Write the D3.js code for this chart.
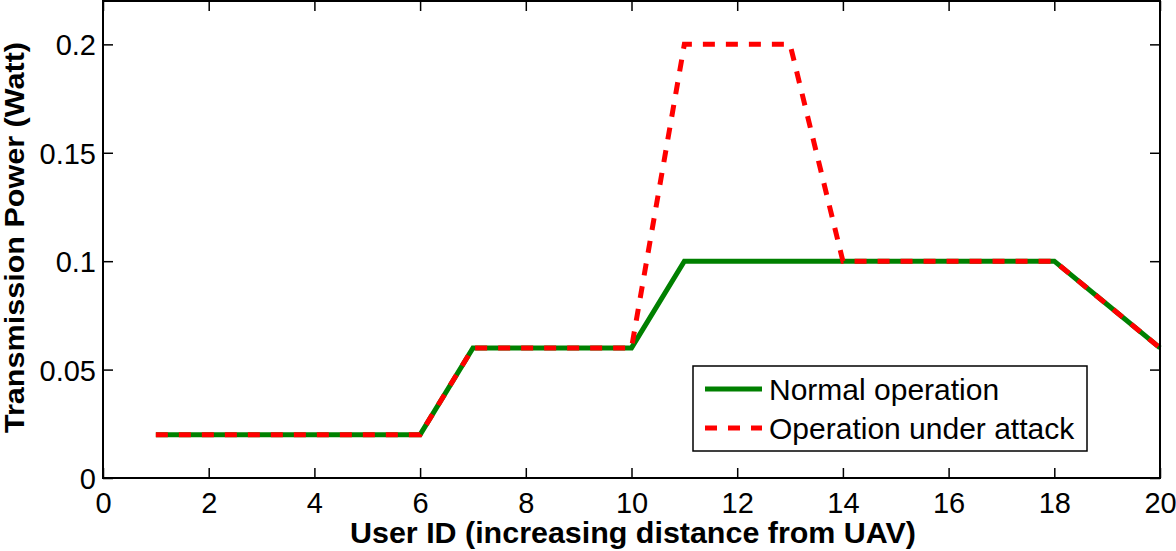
<!DOCTYPE html>
<html><head><meta charset="utf-8">
<script src="https://cdn.jsdelivr.net/npm/d3@7/dist/d3.min.js"></script>
<style>body{margin:0;background:#fff}svg{display:block}text{font-family:"Liberation Sans",Arial,sans-serif}</style>
</head><body>
<svg id="c" width="1176" height="551"></svg>
<script>
const userIds = [1,2,3,4,5,6,7,8,9,10,11,12,13,14,15,16,17,18,19,20];
const normalPower = [0.02,0.02,0.02,0.02,0.02,0.02,0.06,0.06,0.06,0.06,0.1,0.1,0.1,0.1,0.1,0.1,0.1,0.1,0.08,0.06];
const attackPower = [0.02,0.02,0.02,0.02,0.02,0.02,0.06,0.06,0.06,0.06,0.2,0.2,0.2,0.1,0.1,0.1,0.1,0.1,0.08,0.06];
const xTicks = [0,2,4,6,8,10,12,14,16,18,20];
const yTicks = [0,0.05,0.1,0.15,0.2];
const seriesNames = ["Normal operation","Operation under attack"];

const svg = d3.select("#c");
const L=103, R=1160, T=1, B=478;
const x = d3.scaleLinear().domain([0,20]).range([L,R]);
const y = d3.scaleLinear().domain([0,0.22]).range([B,T]);

// lines
const line = d3.line().x((d,i)=>x(userIds[i])).y(d=>y(d));
svg.append("path").datum(normalPower).attr("d",line).attr("fill","none")
  .attr("stroke","#008000").attr("stroke-width",5);
svg.append("path").datum(attackPower).attr("d",line).attr("fill","none")
  .attr("stroke","#ff0000").attr("stroke-width",5).attr("stroke-dasharray","12,11");

// axes
const fmt = d => d===0 ? "0" : String(d);
const gx = svg.append("g").attr("transform",`translate(0,${B})`)
  .call(d3.axisBottom(x).tickValues(xTicks).tickSizeInner(-10).tickSizeOuter(0).tickPadding(14).tickFormat(fmt));
const gy = svg.append("g").attr("transform",`translate(${L},0)`)
  .call(d3.axisLeft(y).tickValues(yTicks).tickSizeInner(-10).tickSizeOuter(0).tickPadding(7).tickFormat(fmt));
const gxt = svg.append("g").attr("transform",`translate(0,${T})`)
  .call(d3.axisTop(x).tickValues(xTicks).tickSizeInner(-10).tickSizeOuter(0).tickFormat(""));
const gyr = svg.append("g").attr("transform",`translate(${R},0)`)
  .call(d3.axisRight(y).tickValues(yTicks).tickSizeInner(-10).tickSizeOuter(0).tickFormat(""));
[gx,gy,gxt,gyr].forEach(g=>{
  g.select(".domain").remove();
  g.selectAll(".tick line").attr("stroke","#000").attr("stroke-width",1.5);
  g.selectAll("text").attr("font-size",29).attr("fill","#000").attr("font-family","Liberation Sans, Arial, sans-serif");
});
gx.selectAll("text").attr("dy","0.71em");
gy.selectAll("text").attr("dy","0.36em");
svg.append("rect").attr("x",L).attr("y",T).attr("width",R-L).attr("height",B-T)
  .attr("fill","none").attr("stroke","#000").attr("stroke-width",2);

// axis titles
svg.append("text").attr("x",633).attr("y",543).attr("text-anchor","middle")
  .attr("font-size",29).attr("font-weight","bold")
  .attr("textLength",566).attr("lengthAdjust","spacingAndGlyphs").text("User ID (increasing distance from UAV)");
svg.append("text").attr("transform",`translate(24,237.5) rotate(-90)`).attr("text-anchor","middle")
  .attr("font-size",28).attr("font-weight","bold")
  .attr("textLength",391).attr("lengthAdjust","spacingAndGlyphs").text("Transmission Power (Watt)");

// legend
const lg = svg.append("g");
lg.append("rect").attr("x",693).attr("y",366).attr("width",394).attr("height",85)
  .attr("fill","#fff").attr("stroke","#000").attr("stroke-width",1.5);
const rows=[389,428];
lg.append("line").attr("x1",705).attr("x2",762).attr("y1",rows[0]).attr("y2",rows[0])
  .attr("stroke","#008000").attr("stroke-width",5);
lg.append("line").attr("x1",705).attr("x2",762).attr("y1",rows[1]).attr("y2",rows[1])
  .attr("stroke","#ff0000").attr("stroke-width",5).attr("stroke-dasharray","12,11");
seriesNames.forEach((n,i)=>{
  lg.append("text").attr("x",769).attr("y",rows[i]).attr("dy","0.35em").attr("font-size",30).text(n);
});
</script>
</body></html>
